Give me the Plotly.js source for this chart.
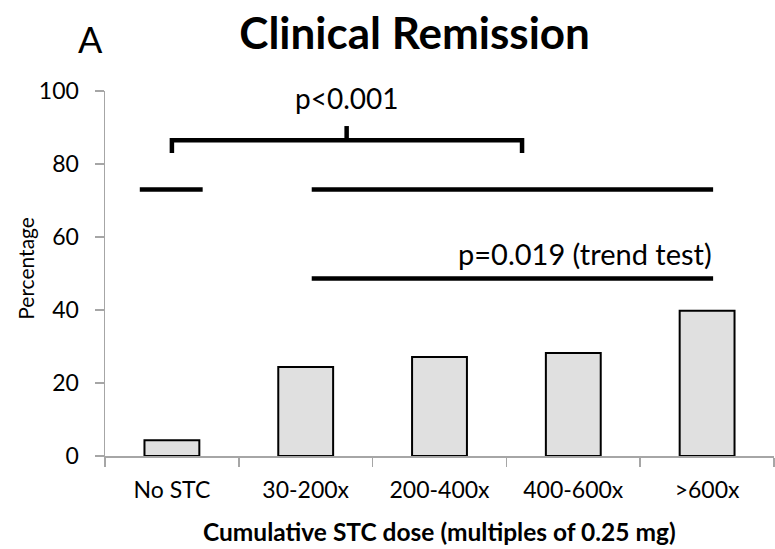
<!DOCTYPE html>
<html>
<head>
<meta charset="utf-8">
<script src="https://cdn.plot.ly/plotly-3.0.1.min.js"></script>
<style>html,body{margin:0;padding:0;background:#fff;}#chart{width:775px;height:549px;}</style>
</head>
<body>
<div id="chart"></div>
<script>
// Data
const categories = ["No STC", "30-200x", "200-400x", "400-600x", ">600x"];
const remissionPct = [4.3, 24.4, 27.1, 28.2, 39.8];
const yTickVals = [0, 20, 40, 60, 80, 100];

// Significance markers (x in category index units, y in percent)
const shortLineX = [-0.24, 0.23];
const shortLineY = [73, 73];
const longLineX = [1.045, 4.045];
const longLineY = [73, 73];
const trendLineX = [1.045, 4.045];
const trendLineY = [48.6, 48.6];
const braceX = [0, 0, 2.617, 2.617];
const braceY = [83, 86.5, 86.5, 83];
const braceTipX = [1.306, 1.306];
const braceTipY = [86.5, 90.4];

const FONT = "Lato, 'Open Sans', sans-serif";
const axisGray = "#a6a6a6";

function sigTrace(x, y) {
  return {x: x, y: y, xaxis: "x2", yaxis: "y", type: "scatter", mode: "lines",
          line: {color: "#000", width: 4.5}, hoverinfo: "skip", showlegend: false};
}

const data = [
  {x: categories, y: remissionPct, type: "bar", width: 0.41,
   marker: {color: "#e0e0e0", line: {color: "#000", width: 2}}, showlegend: false},
  sigTrace(shortLineX, shortLineY),
  sigTrace(longLineX, longLineY),
  sigTrace(trendLineX, trendLineY),
  sigTrace(braceX, braceY),
  sigTrace(braceTipX, braceTipY)
];

const layout = {
  width: 775, height: 549,
  margin: {l: 105, r: 1, t: 91, b: 93},
  paper_bgcolor: "#fff", plot_bgcolor: "#fff",
  font: {family: FONT, color: "#000"},
  title: {text: "<b>Clinical Remission</b>", font: {family: FONT, size: 44, color: "#000"},
          x: 0.535, xanchor: "center", y: 0.938, yanchor: "middle", xref: "container", yref: "container"},
  xaxis: {type: "category", range: [-0.5, 4.5], tickson: "boundaries", ticks: "outside", ticklen: 9,
          tickcolor: axisGray, tickwidth: 1.5, showline: true, linecolor: axisGray, linewidth: 1.5,
          showgrid: false, zeroline: false, tickfont: {family: FONT, size: 23, color: "#000"},
          ticklabelstandoff: 13, fixedrange: true},
  xaxis2: {overlaying: "x", range: [-0.5, 4.5], visible: false, fixedrange: true},
  yaxis: {range: [0, 100], tickvals: yTickVals, ticks: "outside", ticklen: 9, tickcolor: axisGray,
          tickwidth: 1.5, showline: true, linecolor: axisGray, linewidth: 1.5, showgrid: false,
          zeroline: false, tickfont: {family: FONT, size: 23, color: "#000"}, ticklabelstandoff: 11,
          fixedrange: true},
  annotations: [
    {text: "A", xref: "paper", yref: "paper", x: -0.022, y: 1.142, xanchor: "center", yanchor: "middle",
     showarrow: false, font: {family: FONT, size: 36, color: "#000"}},
    {text: "p<0.001", xref: "x2", yref: "y", x: 1.306, y: 92.8, xanchor: "center", yanchor: "bottom",
     showarrow: false, font: {family: FONT, size: 28, color: "#000"}},
    {text: "p=0.019 (trend test)", xref: "x2", yref: "y", x: 4.05, y: 50.2, xanchor: "right", yanchor: "bottom",
     showarrow: false, font: {family: FONT, size: 29, color: "#000"}},
    {text: "<b>Cumulative STC dose (multiples of 0.25 mg)</b>", xref: "paper", yref: "paper",
     x: 0.5, y: -0.208, xanchor: "center", yanchor: "middle", showarrow: false,
     font: {family: FONT, size: 24.5, color: "#000"}},
    {text: "Percentage", xref: "paper", yref: "paper", x: -0.12, y: 0.515, xanchor: "center",
     yanchor: "middle", textangle: -90, showarrow: false, font: {family: FONT, size: 21, color: "#000"}}
  ]
};

Plotly.newPlot("chart", data, layout, {displayModeBar: false, staticPlot: true});
</script>
</body>
</html>
